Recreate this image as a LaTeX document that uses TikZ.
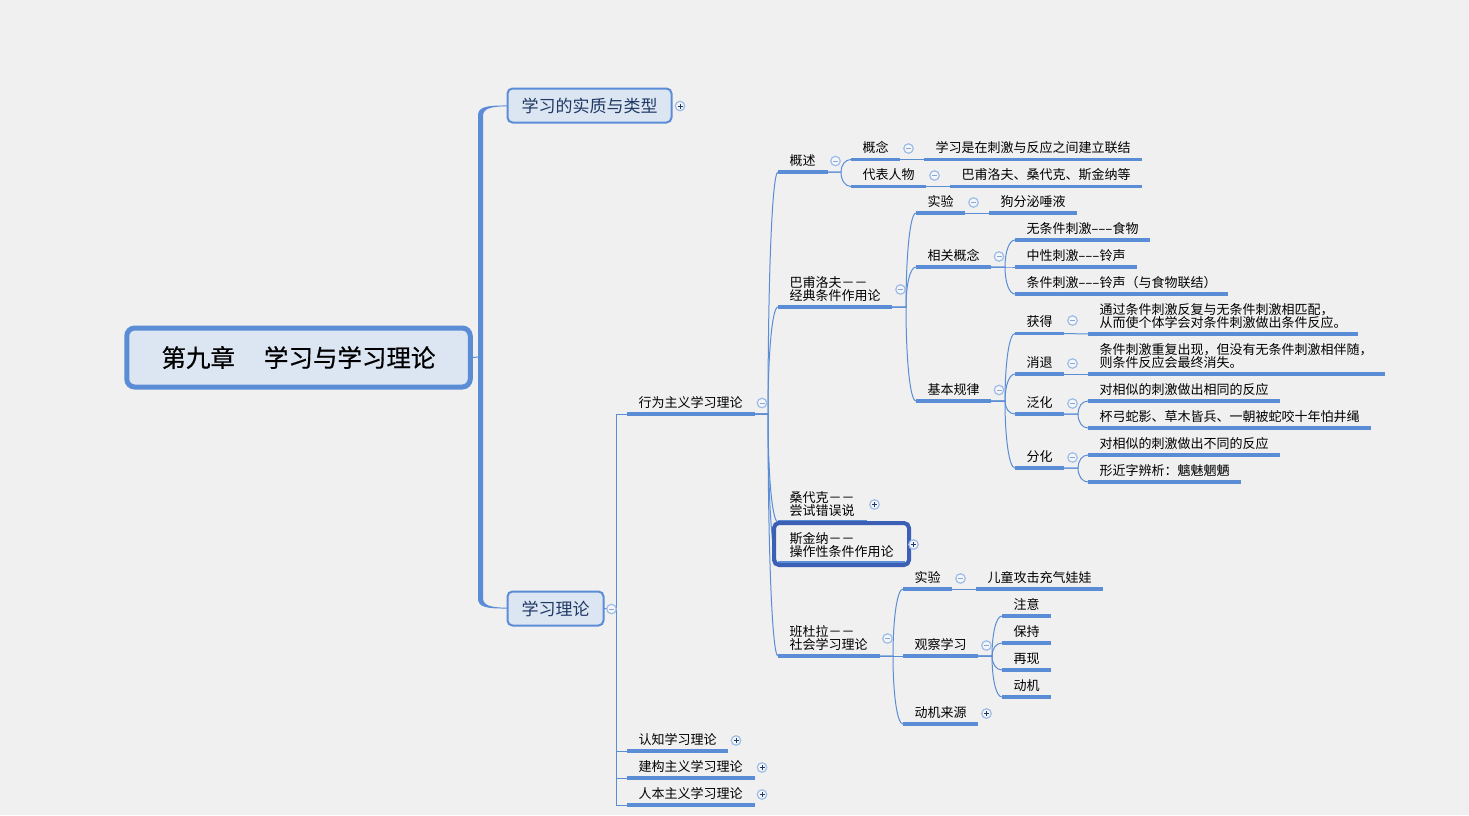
\documentclass[tikz,border=0pt]{standalone}
\usepackage{fontspec}
\usepackage{graphicx}
\usetikzlibrary{calc}
\newfontfamily\cjk{Noto Sans CJK SC}
\newfontfamily\cjkroot[FakeBold=0.6]{Noto Sans CJK SC}
\definecolor{bg}{HTML}{F0F0F0}
\definecolor{mapblue}{HTML}{5B8DD6}
\definecolor{boxfill}{HTML}{DCE6F3}
\definecolor{navy}{HTML}{1F3864}
\definecolor{selblue}{HTML}{3A5FB5}
\definecolor{foldring}{HTML}{9DBCE8}
\definecolor{foldfill}{HTML}{F4F6FA}
\definecolor{foldminus}{HTML}{8AA6D2}
\tikzset{
  x=1pt,y=-1pt,
  uline/.style={draw=mapblue,line width=3.2pt},
  conn/.style={draw=mapblue,line width=1pt},
  topic/.style={anchor=south west,inner xsep=11.5pt,inner ysep=7pt,outer sep=0pt,text depth=0pt,align=left,
    font=\cjk\fontsize{13}{13}\selectfont,text=black,
    append after command={\pgfextra{\draw[uline] (\tikzlastnode.south west) -- (\tikzlastnode.south east);}}},
  mainbox/.style={draw=mapblue,fill=boxfill,rounded corners=5pt,line width=2pt,outer sep=0pt,inner sep=0pt,
    font=\cjk\fontsize{17}{17}\selectfont,text=navy},
  rootbox/.style={draw=mapblue,fill=boxfill,rounded corners=8pt,line width=5pt,outer sep=0pt,inner sep=0pt,
    font=\cjkroot\fontsize{24.5}{24.5}\selectfont,text=black},
  selbox/.style={draw=selblue,rounded corners=5pt,line width=4pt,outer sep=0pt,inner sep=0pt},
  foldbase/.style={circle,draw=foldring,fill=foldfill,line width=1.2pt,minimum size=9.5pt,inner sep=0pt,outer sep=0pt},
  foldm/.style={foldbase,path picture={\draw[foldminus,line width=1pt] ($(path picture bounding box.center)+(-2.5pt,0)$) -- ($(path picture bounding box.center)+(2.5pt,0)$);}},
  foldp/.style={foldbase,path picture={\draw[navy,line width=1pt] ($(path picture bounding box.center)+(-2.5pt,0)$) -- ($(path picture bounding box.center)+(2.5pt,0)$) ($(path picture bounding box.center)+(0,-2.5pt)$) -- ($(path picture bounding box.center)+(0,2.5pt)$);}},
}
\newcommand\tp[5]{\node[topic,text width=\dimexpr #3pt-#2pt-23pt\relax] (#1) at (#2,#4) {#5};}
\newcommand\tpp[5]{\node[topic,text depth=13pt,text width=\dimexpr #3pt-#2pt-23pt\relax] (#1) at (#2,#4) {#5};}
\newcommand\lnk[3]{\draw[conn] (#1.south east) -- ++(#3pt,0) coordinate (jj) .. controls ($(jj)!.55!(jj|-#2.south west)$) and ($(#2.south west)+(-6pt,0)$) .. (#2.south west);}
\newcommand\chain[2]{\draw[conn] (#1.south east) -- (#2.south west);}
\newcommand\onedash{\makebox[7pt]{\scalebox{1.7}[1]{-}}}
\newcommand\ddd{\onedash\onedash\onedash}
\begin{document}
\begin{tikzpicture}
\fill[bg] (0,0) rectangle (1469,815);
\useasboundingbox (0,0) rectangle (1469,815);

% main boxes
\coordinate (sp) at (480.5,357);
\node[rootbox,minimum width=343.5pt,minimum height=59pt] (root) at (298.5,357.5) {第九章\hspace{29pt}学习与学习理论};
\node[mainbox,minimum width=164pt,minimum height=34pt] (box1) at (589.5,105.5) {学习的实质与类型};
\node[mainbox,minimum width=96pt,minimum height=34pt] (box2) at (555.5,608.5) {学习理论};

% spine
\draw[conn] (root.east) -- (sp);
\fill[mapblue] (478,357) -- (478,116) .. controls (478,108) and (483,105.2) .. (box1.west) -- (507,106.3) .. controls (492,106.5) and (483,108) .. (483,116) -- (483,357) -- cycle;
\fill[mapblue] (478,357) -- (478,598) .. controls (478,606) and (483,608.8) .. (box2.west) -- (507,607.7) .. controls (492,607.5) and (483,606) .. (483,598) -- (483,357) -- cycle;

% level 2
\tp{beh}{627}{755}{414}{行为主义学习理论}
\tp{cog}{627}{728}{751}{认知学习理论}
\tp{con}{627}{755}{778}{建构主义学习理论}
\tp{hum}{627}{755}{805}{人本主义学习理论}
\draw[conn] (box2.east) -- ++(13pt,0) coordinate (j2);
\draw[conn] (j2) |- (beh.south west);
\draw[conn] (j2) |- (cog.south west);
\draw[conn] (j2) |- (con.south west);
\draw[conn] (j2) |- (hum.south west);

% level 3
\tp{gs}{778}{828}{172}{概述}
\tpp{pav}{778}{892}{307}{巴甫洛夫－－\\经典条件作用论}
\tpp{tho}{778}{867}{522}{桑代克－－\\尝试错误说}
\tpp{ski}{778}{905}{563}{斯金纳－－\\操作性条件作用论}
\tpp{ban}{778}{880}{656}{班杜拉－－\\社会学习理论}
\lnk{beh}{gs}{13}
\lnk{beh}{pav}{13}
\lnk{beh}{tho}{13}
\lnk{beh}{ski}{13}
\lnk{beh}{ban}{13}
\node[selbox,minimum width=135pt,minimum height=42pt] (sel) at (841.5,544) {};

% 概述
\tp{gn}{851}{900}{159.5}{概念}
\tp{gnl}{924}{1142}{159.5}{学习是在刺激与反应之间建立联结}
\tp{db}{851}{926}{186.5}{代表人物}
\tp{dbl}{950}{1142}{186.5}{巴甫洛夫、桑代克、斯金纳等}
\lnk{gs}{gn}{13}
\lnk{gs}{db}{13}
\chain{gn}{gnl}
\chain{db}{dbl}

% 巴甫洛夫
\tp{sy}{916}{965}{213}{实验}
\tp{syl}{989}{1077}{213}{狗分泌唾液}
\tp{xg}{916}{991}{267}{相关概念}
\tp{xa}{1015}{1150}{240}{无条件刺激\ddd 食物}
\tp{xb}{1015}{1137}{267}{中性刺激\ddd 铃声}
\tp{xc}{1015}{1228}{294}{条件刺激\ddd 铃声（与食物联结）}
\tp{jb}{916}{991}{401}{基本规律}
\tp{hd}{1015}{1064}{333.5}{获得}
\tpp{hdl}{1088}{1358}{334}{通过条件刺激反复与无条件刺激相匹配，\\从而使个体学会对条件刺激做出条件反应。}
\tp{xt}{1015}{1064}{374}{消退}
\tpp{xtl}{1088}{1385}{374}{条件刺激重复出现，但没有无条件刺激相伴随，\\则条件反应会最终消失。}
\tp{fh}{1015}{1064}{414}{泛化}
\tp{fha}{1088}{1280}{401}{对相似的刺激做出相同的反应}
\tp{fhb}{1088}{1371}{428}{杯弓蛇影、草木皆兵、一朝被蛇咬十年怕井绳}
\tp{fn}{1015}{1064}{468}{分化}
\tp{fna}{1088}{1280}{455}{对相似的刺激做出不同的反应}
\tp{fnb}{1088}{1241}{482}{形近字辨析：魑魅魍魉}
\lnk{pav}{sy}{14}
\lnk{pav}{xg}{14}
\lnk{pav}{jb}{14}
\chain{sy}{syl}
\lnk{xg}{xa}{14}
\lnk{xg}{xb}{14}
\lnk{xg}{xc}{14}
\lnk{jb}{hd}{14}
\lnk{jb}{xt}{14}
\lnk{jb}{fh}{14}
\lnk{jb}{fn}{14}
\chain{hd}{hdl}
\chain{xt}{xtl}
\lnk{fh}{fha}{14}
\lnk{fh}{fhb}{14}
\lnk{fn}{fna}{14}
\lnk{fn}{fnb}{14}

% 班杜拉
\tp{bs}{903}{952}{589}{实验}
\tp{bsl}{976}{1103}{589}{儿童攻击充气娃娃}
\tp{gc}{903}{978}{656}{观察学习}
\tp{zy}{1002}{1051}{616}{注意}
\tp{bc}{1002}{1051}{643}{保持}
\tp{zx}{1002}{1051}{670}{再现}
\tp{dj}{1002}{1051}{697}{动机}
\tp{dl}{903}{978}{724}{动机来源}
\lnk{ban}{bs}{13}
\lnk{ban}{gc}{13}
\lnk{ban}{dl}{13}
\chain{bs}{bsl}
\lnk{gc}{zy}{14}
\lnk{gc}{bc}{14}
\lnk{gc}{zx}{14}
\lnk{gc}{dj}{14}

% fold markers
\node[foldp] (f01) at (680,106) {};
\node[foldm] (f02) at (611.5,609) {};
\node[foldm] (f03) at (762,403) {};
\node[foldp] (f04) at (736,740.5) {};
\node[foldp] (f05) at (762,767.5) {};
\node[foldp] (f06) at (762,794.5) {};
\node[foldm] (f07) at (835.5,161) {};
\node[foldm] (f08) at (900.5,289.5) {};
\node[foldp] (f09) at (874.5,504.5) {};
\node[foldp] (f10) at (913.5,544.5) {};
\node[foldm] (f11) at (887.5,638.5) {};
\node[foldm] (f12) at (908.5,148.5) {};
\node[foldm] (f13) at (934.5,175.5) {};
\node[foldm] (f14) at (973.5,202.5) {};
\node[foldm] (f15) at (999,256.5) {};
\node[foldm] (f16) at (999,390) {};
\node[foldm] (f17) at (1072.5,320.5) {};
\node[foldm] (f18) at (1072.5,363.5) {};
\node[foldm] (f19) at (1072.5,403.5) {};
\node[foldm] (f20) at (1072.5,457.5) {};
\node[foldm] (f21) at (960.5,578.5) {};
\node[foldm] (f22) at (986.5,645.5) {};
\node[foldp] (f23) at (986.5,713.5) {};
\end{tikzpicture}
\end{document}
